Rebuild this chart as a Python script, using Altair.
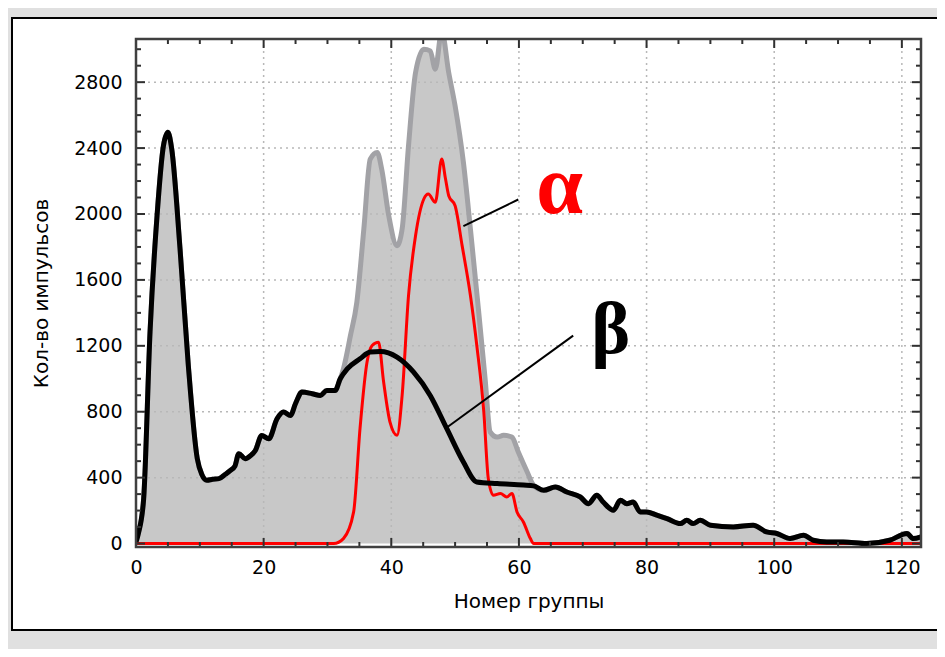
import altair as alt
import pandas as pd

# ---------------- data ----------------
beta_x = [0, 0.4, 1.2, 2.2, 3.3, 4.3, 5.0, 5.6, 6.9, 8.2, 9.6, 10.3, 11.1, 12, 13.0, 14, 14.8,
          15.5, 16.1, 17.1, 18, 18.7, 19.7, 20.8, 22.1, 23.1, 24.2, 25, 26.0, 27.6, 28.9, 29.9,
          31.2, 32.0, 33.1, 35.1, 36.7, 38.3, 40.9, 43.5, 46.1, 48.7, 51.3, 53.4, 56.6, 60.7,
          62.3, 63.9, 65.7, 67.5, 69.6, 70.9, 72.2, 73.2, 74.8, 75.9, 76.9, 77.9, 79.0, 80.0,
          81.6, 83.2, 85.3, 86.3, 87.3, 88.4, 90.0, 93.6, 96.7, 98.8, 100.4, 102.5, 104.6,
          106.1, 108.2, 110.8, 114.5, 118.1, 120.8, 121.8, 123]
beta_y = [10, 66, 272, 1285, 1990, 2414, 2496, 2393, 1788, 1080, 515, 420, 384, 390, 394, 420, 444,
          470, 545, 515, 535, 565, 656, 636, 757, 798, 777, 850, 919, 909, 899, 929,
          929, 1000, 1060, 1121, 1162, 1165, 1131, 1040, 899, 697, 495, 374, 364, 355,
          350, 323, 343, 313, 283, 242, 293, 252, 202, 262, 242, 252, 192, 192,
          172, 151, 121, 141, 121, 141, 111, 101, 111, 71, 61, 30, 50,
          20, 10, 10, 0, 20, 61, 30, 40]

alpha_x = [0, 31, 32.5, 34.1, 35.1, 36.2, 37.0, 38.0, 38.8, 39.8, 40.9, 41.7, 42.7, 43.8, 45.1,
           45.8, 46.9, 47.9, 48.5, 49.0, 50.0, 51.1, 52.4, 53.4, 54.5, 55.2, 56.0, 57.1, 58.1,
           58.9, 59.7, 60.7, 61.8, 62.3, 123]
alpha_y = [0, 0, 30, 192, 697, 1101, 1202, 1222, 980, 737, 657, 899, 1505, 1868, 2091,
           2121, 2071, 2333, 2212, 2111, 2050, 1808, 1505, 1202, 798, 394, 293, 303, 283,
           303, 192, 131, 30, 0, 0]

# total (alpha + beta) where it departs from beta
peak_x = [32.5, 33.6, 34.6, 35.7, 36.7, 37.8, 38.5, 39.6, 40.9, 41.7, 42.7, 43.8, 45.1, 46.1,
          46.9, 47.9, 49.0, 50.0, 51.3, 52.4, 53.7, 54.7, 55.5, 56.6, 57.6, 58.9, 59.9, 61.3, 62.3]
peak_y = [1060, 1262, 1464, 1909, 2333, 2373, 2272, 1990, 1808, 1909, 2414, 2858, 3000, 2990,
          2879, 3110, 2858, 2656, 2313, 1909, 1404, 1000, 677, 646, 657, 646, 555, 434, 353]

x_major = [0, 20, 40, 60, 80, 100, 120]
y_major = [0, 400, 800, 1200, 1600, 2000, 2400, 2800]
x_minor = [v for v in range(0, 124, 5) if v % 20 != 0]
y_minor = [v for v in range(0, 3063, 100) if v % 400 != 0]

labels = ["α", "β"]
label_x = [66.4, 74.4]
label_y = [2009, 1159]
leader_x = [[51.3, 59.9], [48.7, 68.5]]
leader_y = [[1926, 2088], [704, 1262]]

X_TITLE = "Номер группы"
Y_TITLE = "Кол-во импульсов"

# ---------------- frames ----------------
W, H = 785, 508
XDOM = [0, 123]
YDOM = [-21, 3062]
FONT = "DejaVu Sans"

beta = pd.DataFrame({"x": beta_x, "y": beta_y})
alpha = pd.DataFrame({"x": alpha_x, "y": alpha_y})
tot_x = [x for x in beta_x if x < peak_x[0]] + peak_x + [x for x in beta_x if x > peak_x[-1]]
tot_y = ([y for x, y in zip(beta_x, beta_y) if x < peak_x[0]] + peak_y +
         [y for x, y in zip(beta_x, beta_y) if x > peak_x[-1]])
total = pd.DataFrame({"x": tot_x, "y": tot_y})

xs = alt.Scale(domain=XDOM, nice=False, zero=False)
ys = alt.Scale(domain=YDOM, nice=False, zero=False)

X = alt.X("x:Q", scale=xs, axis=alt.Axis(
    values=x_major, title=X_TITLE, grid=False, ticks=False, tickSize=0, domain=False,
    labelFlush=False, labelFont=FONT, labelFontSize=19, labelColor="#000000",
    labelPadding=11, titleFont=FONT, titleFontSize=20, titleFontWeight="normal",
    titleColor="#000000", titlePadding=14, zindex=1, format="d"))
Y = alt.Y("y:Q", scale=ys, axis=alt.Axis(
    values=y_major, title=Y_TITLE, grid=False, ticks=False, tickSize=0, domain=False,
    labelFlush=False, labelFont=FONT, labelFontSize=19, labelColor="#000000",
    labelPadding=14, titleFont=FONT, titleFontSize=20, titleFontWeight="normal",
    titleColor="#000000", titlePadding=22, zindex=1, format="d"))

panel = alt.Chart(pd.DataFrame({"a": [0]})).mark_rect(
    fill="white", stroke="black", strokeWidth=2, clip=False).encode(
    x=alt.value(-124), x2=alt.value(W + 40), y=alt.value(-21), y2=alt.value(H + 83))

area = alt.Chart(total).mark_area(color="#c8c8c8", clip=True,
                                  interpolate="monotone").encode(x=X, y=Y)

gx = alt.Chart(pd.DataFrame({"x": x_major[1:]})).mark_rule(
    color="#b8b8b8", strokeWidth=1.5, strokeDash=[2, 4]).encode(
    x=alt.X("x:Q", scale=xs), y=alt.value(0), y2=alt.value(H))
gy = alt.Chart(pd.DataFrame({"y": y_major[1:]})).mark_rule(
    color="#b8b8b8", strokeWidth=1.5, strokeDash=[2, 4]).encode(
    y=alt.Y("y:Q", scale=ys), x=alt.value(0), x2=alt.value(W))

tline = alt.Chart(total).mark_line(color="#a2a2a6", strokeWidth=5, clip=True,
                                   strokeJoin="round", interpolate="monotone").encode(x="x:Q", y="y:Q")
aline = alt.Chart(alpha).mark_line(color="#ff0000", strokeWidth=3, clip=True,
                                   strokeJoin="round", interpolate="monotone").encode(x="x:Q", y="y:Q")
bline = alt.Chart(beta).mark_line(color="#000000", strokeWidth=5, clip=True,
                                  strokeJoin="round", interpolate="monotone").encode(x="x:Q", y="y:Q")

lead = pd.DataFrame({
    "x": [v for pair in leader_x for v in pair],
    "y": [v for pair in leader_y for v in pair],
    "k": [i for i, pair in enumerate(leader_x) for _ in pair]})
leaders = alt.Chart(lead).mark_line(color="black", strokeWidth=2).encode(
    x="x:Q", y="y:Q", detail="k:N")

lab = pd.DataFrame({"t": labels, "x": label_x, "y": label_y,
                    "c": ["#ff0000", "#000000"], "s": [84, 74]})
texts = alt.Chart(lab).mark_text(font="Liberation Serif", fontWeight="bold",
                                 baseline="alphabetic", align="center").encode(
    x="x:Q", y="y:Q", text="t:N", color=alt.Color("c:N", scale=None),
    size=alt.Size("s:Q", scale=None))

TC = "#303030"
def xticks(vals, ln):
    d = pd.DataFrame({"x": vals})
    b = alt.Chart(d).mark_rule(color=TC, strokeWidth=2).encode(
        x=alt.X("x:Q", scale=xs), y=alt.value(H), y2=alt.value(H - ln))
    t = alt.Chart(d).mark_rule(color=TC, strokeWidth=2).encode(
        x=alt.X("x:Q", scale=xs), y=alt.value(0), y2=alt.value(ln))
    return [b, t]

def yticks(vals, ln):
    d = pd.DataFrame({"y": vals})
    l = alt.Chart(d).mark_rule(color=TC, strokeWidth=2).encode(
        y=alt.Y("y:Q", scale=ys), x=alt.value(0), x2=alt.value(ln))
    r = alt.Chart(d).mark_rule(color=TC, strokeWidth=2).encode(
        y=alt.Y("y:Q", scale=ys), x=alt.value(W), x2=alt.value(W - ln))
    return [l, r]

frame = alt.Chart(pd.DataFrame({"a": [0]})).mark_rect(
    fill="white", fillOpacity=0, stroke="#404040", strokeWidth=2.5).encode(
    x=alt.value(0), x2=alt.value(W), y=alt.value(0), y2=alt.value(H))

chart = alt.layer(
    panel, area, gx, gy, tline, aline, bline, leaders, texts,
    *xticks(x_major, 9), *xticks(x_minor, 5), *yticks(y_major, 9), *yticks(y_minor, 5),
    frame
).properties(
    width=W, height=H,
    autosize=alt.AutoSizeParams(type="none"),
    padding={"left": 128, "top": 31, "right": 16, "bottom": 102},
    background="#e0e0e0",
).configure_view(stroke=None)

chart.save("out.html", embed_options={"renderer": "svg", "actions": False})
